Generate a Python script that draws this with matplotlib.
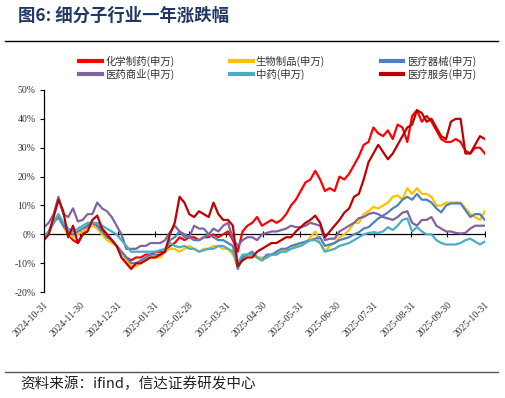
import numpy as np
import pandas as pd
import matplotlib
matplotlib.use("Agg")
import matplotlib.pyplot as plt

plt.rcParams['font.family'] = ['Noto Sans CJK SC', 'DejaVu Sans']

# sample dates (about every 4 days) from 2024-10-31 to 2025-10-31
dates = pd.date_range('2024-10-31', '2025-10-31', periods=92)

chem = [-2, 1, 5, 6, 3, 0, -2, -3, 0, 3,
        4, 3, 2, 0, -2, -4, -6, -8, -9, -8,
        -8, -7, -7, -6, -6, -6, -4, -3, -1, -2,
        -1, -1, -2, -1, -1, 0, -1, 0, 1, -2,
        -6, 1, 3, 4, 6, 3, 4, 5, 4, 5,
        7, 10, 12, 15, 18, 19, 22, 19, 15, 16,
        15, 20, 19, 21, 24, 27, 31, 32, 37, 35,
        34, 36, 33, 38, 37, 32, 41, 43, 39, 41,
        39, 36, 33, 32, 32, 33, 32, 29, 28, 30,
        30, 28]
bio = [-2, 1, 4, 7, 3, 0, -1, 0, 1, 2,
       3, 2, 0, -2, -3, -4, -6, -9, -11, -11,
       -10, -9, -8, -8, -8, -6, -5, -5, -6, -5,
       -4, -5, -6, -5, -5, -4, -4, -5, -5, -7,
       -11, -8, -7, -7, -8, -8, -8, -7, -7, -6,
       -5.5, -5, -4, -4, -3, -1, 1, -3, -6, -4,
       -3, -1, 0, 1.5, 4, 4, 7, 8, 9.5, 9,
       10, 11, 13, 13.5, 12, 16, 14, 16, 14, 14,
       13, 10, 10, 11, 11, 11, 11, 9, 7, 6,
       5, 8]
device = [-1, 1, 4, 6, 3, 1, 0, 1, 2, 3,
          4, 3, 1, -1, -2, -4, -6, -8, -10, -10,
          -9, -8, -7, -7, -7, -6, -2, -1, 1, -1,
          -1, -2, -2, -1, 0, -1, -2, -2, -3, -4,
          -12, -8, -7, -6, -8, -9, -7, -7, -6, -5,
          -5, -4, -3.5, -3, -2.5, -2, -1.5, -1, -4, -3.5,
          -3, -2, -1.5, -1, 0, 0.7, 2, 2.5, 4, 5.5,
          6.5, 7.6, 9, 10, 12, 13, 12, 14, 12, 12,
          11, 9, 7.6, 10, 10.7, 10.7, 10.7, 8.4, 6, 7,
          7, 5]
commerce = [2.5, 4, 7, 13, 7, 6, 9, 4.5, 5, 7,
            7, 11, 9, 8, 6, 3, 0, -5, -5, -5,
            -4, -4, -3, -3, -3, -2, 0.7, 3, 1, 0,
            -1, 3, 2, 2, 0, 2, 1, 3, 4, -1.5,
            -4, -2, -1, -1, -2, 0, 0.5, 1, 1, 1.5,
            2, 3, 2.5, 2.5, 3, 4, 3.5, 3, -2, -1.5,
            -1.5, 1, 2, 3, 4, 5.6, 6, 7, 7.5, 7,
            6, 5.5, 5, 6, 7.5, 8, 4, 3, 5, 5,
            6, 3, 2, 1, 1, 0.5, 0.3, 0.5, 2, 3,
            3, 3]
tcm = [-1, 1, 4, 7, 4, 2, 1, 2, 3, 4,
       4, 4, 3, 2, 1, 0, -2, -4, -6, -6,
       -6, -6, -6, -6, -5.5, -5, -3, -4, -4.5, -4,
       -5, -5, -6, -5.5, -5, -5, -4, -4, -5, -6,
       -10, -7, -7, -7, -8, -9, -8, -7, -7, -6,
       -6, -5, -4.5, -4, -3, -2, -2, -3, -6, -5.5,
       -5, -4, -3.5, -3, -2, -1, 0, 0.5, 0.7, 0.5,
       1, 2.5, 1.5, 3, 5, 5.5, 1, 2.5, 1, 0,
       0, -2, -3, -3.5, -3.5, -3.5, -3, -2, -1.5, -2.5,
       -3.5, -2.5]
service = [-2, 0, 6, 12, 8, -1, 3, -3, 0, 1,
           5, 6.5, 2, 0, -2, -4, -8, -10, -12, -10,
           -10, -9, -8, -8, -7, -6, 0, 4, 13, 11,
           7, 6, 8, 7, 6, 11, 7, 5, 5, 3,
           -11, -9, -8, -8, -6, -5, -4, -3, -3, -2,
           -1, -1, 1, 2.5, 4, 5, 6.5, 4, -1, 1,
           3, 5, 7.5, 9, 13, 14, 19, 25, 28, 31,
           28.5, 26, 28, 31, 34, 37, 38, 43, 42, 39,
           40, 37, 34, 33, 39, 40, 40, 28, 28, 31,
           34, 33]

names = ['化学制药(申万)', '生物制品(申万)', '医疗器械(申万)',
         '医药商业(申万)', '中药(申万)', '医疗服务(申万)']
colors = ['#FF0000', '#FFC000', '#4F81BD', '#8064A2', '#4BACC6', '#C00000']
series = [chem, bio, device, commerce, tcm, service]

tick_labels = ['2024-10-31', '2024-11-30', '2024-12-31', '2025-01-31',
               '2025-02-28', '2025-03-31', '2025-04-30', '2025-05-31',
               '2025-06-30', '2025-07-31', '2025-08-31', '2025-09-30',
               '2025-10-31']
tick_dates = pd.to_datetime(tick_labels)

fig = plt.figure(figsize=(5.05, 3.98), dpi=100)
ax = fig.add_axes([0.087, 0.266, 0.873, 0.508])

handles = []
for vals, name, c in zip(series, names, colors):
    h, = ax.plot(dates, vals, color=c, lw=1.6, label=name)
    handles.append(h)

ax.axhline(0, color='black', lw=0.9, zorder=1)
ax.plot(tick_dates, np.zeros(len(tick_dates)), ls='none', marker='|',
        ms=4, mew=0.8, color='black', zorder=1)

ax.set_xlim(dates[0], dates[-1])
ax.set_ylim(-20, 50)
ax.set_yticks(range(-20, 51, 10))
ax.set_yticklabels([f'{v}%' for v in range(-20, 51, 10)],
                   family='Liberation Serif', fontsize=7, color='#333333')
ax.set_xticks(tick_dates)
ax.set_xticklabels(tick_labels, rotation=45, ha='right',
                   rotation_mode='anchor', family='Liberation Serif',
                   fontsize=7, color='#333333')
ax.tick_params(axis='x', length=0, pad=6)
ax.tick_params(axis='y', direction='out', length=3, width=0.8, pad=3)
for s in ['top', 'right', 'bottom']:
    ax.spines[s].set_visible(False)
ax.spines['left'].set_linewidth(0.9)

# legend fills row-wise in the reference
order = [0, 3, 1, 4, 2, 5]
fig.legend([handles[i] for i in order], [names[i] for i in order],
           ncol=3, loc='lower left',
           bbox_to_anchor=(75 / 505, 1 - 84 / 398, 405 / 505, 30 / 398),
           mode='expand', frameon=False, fontsize=7.5, handlelength=2.2,
           handletextpad=0.3, labelspacing=0.2, borderaxespad=0,
           labelcolor='#333333')
for lh in fig.legends[0].get_lines():
    lh.set_linewidth(3)

fig.text(18 / 505, 1 - 16 / 398, '图6: 细分子行业一年涨跌幅', fontsize=12.5,
         fontweight='bold', color='#1F3864', va='center', ha='left')
fig.add_artist(plt.Line2D([5 / 505, 498 / 505], [1 - 41 / 398, 1 - 41 / 398],
                          color='black', lw=1))
fig.add_artist(plt.Line2D([5 / 505, 498 / 505], [1 - 372 / 398, 1 - 372 / 398],
                          color='#555555', lw=1))
fig.text(20 / 505, 1 - 384 / 398, '资料来源：ifind，信达证券研发中心',
         fontsize=10.5, color='#222222', va='center', ha='left')

fig.savefig('out.png', dpi=100)
